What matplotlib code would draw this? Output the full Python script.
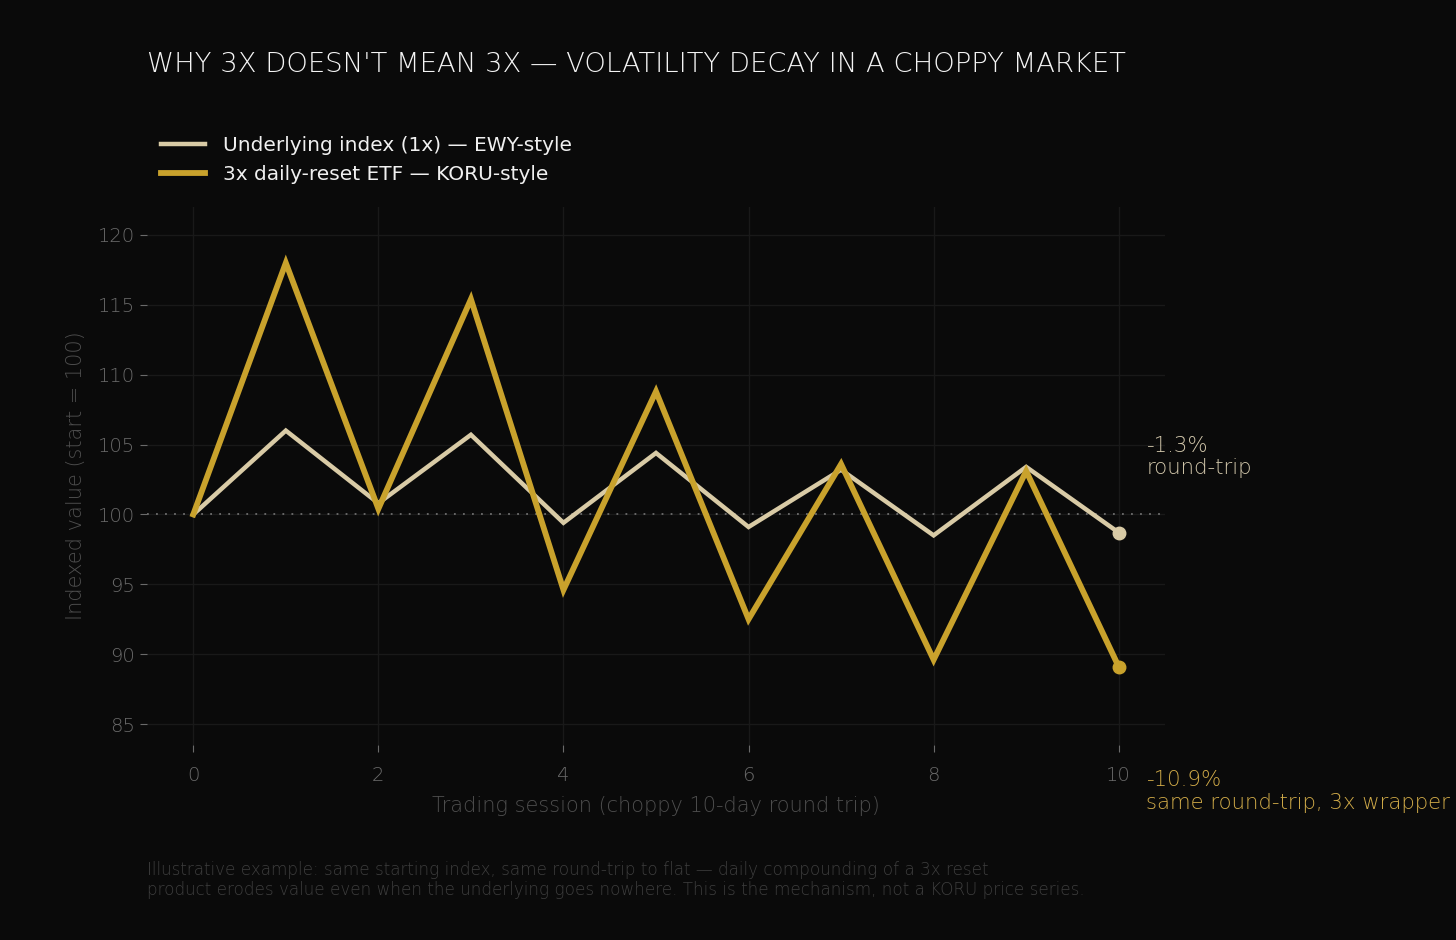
import matplotlib
matplotlib.use("Agg")
import matplotlib.pyplot as plt

# data
sessions = list(range(11))
underlying = [100.0, 106.0, 100.8, 105.7, 99.4, 104.4, 99.1, 103.2, 98.5, 103.4, 98.7]
lev3x = [100.0, 118.0, 100.4, 115.4, 94.6, 108.8, 92.5, 103.6, 89.6, 103.1, 89.1]
yticks = [85, 90, 95, 100, 105, 110, 115, 120]
xticks = [0, 2, 4, 6, 8, 10]

BG = "#0a0a0a"
BEIGE = "#d9cba6"
GOLD = "#c9a22c"

plt.rcParams['font.family'] = ['DejaVu Sans']

fig = plt.figure(figsize=(14.56, 9.4), dpi=100, facecolor=BG)
ax = fig.add_axes([147/1456, 1 - 745/940, (1165-147)/1456, (745-207)/940])
ax.set_facecolor(BG)

ax.plot(sessions, underlying, color=BEIGE, lw=3.2, solid_joinstyle='miter',
        label="Underlying index (1x) \u2014 EWY-style", zorder=3)
ax.plot(sessions, lev3x, color=GOLD, lw=4.2, solid_joinstyle='miter',
        label="3x daily-reset ETF \u2014 KORU-style", zorder=4)
ax.plot(sessions[-1], underlying[-1], 'o', color=BEIGE, ms=9, zorder=5)
ax.plot(sessions[-1], lev3x[-1], 'o', color=GOLD, ms=9, zorder=5)

ax.axhline(100, color="#6e6e6e", lw=1.3, ls=(0, (1, 4)), xmax=0.995, zorder=2)

ax.set_xlim(-0.5, 10.5)
ax.set_ylim(83.5, 122)
ax.set_xticks(xticks)
ax.set_yticks(yticks)
ax.grid(True, color="#191919", lw=1)
ax.set_axisbelow(True)
for s in ax.spines.values():
    s.set_visible(False)
ax.tick_params(colors="#6a6a6a", labelsize=14, length=5, width=0.8)
ax.tick_params(axis='x', pad=10)
for lab in ax.get_xticklabels() + ax.get_yticklabels():
    lab.set_fontweight('light')

ax.set_xlabel("Trading session (choppy 10-day round trip)", color="#4e4e4e",
              fontsize=15, fontweight='light', labelpad=8)
ax.set_ylabel("Indexed value (start = 100)", color="#4e4e4e",
              fontsize=15, fontweight='light', labelpad=9)

ax.text(10.3, 104.1, "-1.3%\nround-trip", color="#d2c7ab", fontsize=15.3,
        fontweight='light', va='center', ha='left', linespacing=1.15, clip_on=False)
ax.text(10.3, 80.2, "-10.9%\nsame round-trip, 3x wrapper", color="#d0aa48",
        fontsize=15.3, fontweight='light', va='center', ha='left',
        linespacing=1.2, clip_on=False)

fig.text(147/1456, 1 - 64/940, "WHY 3X DOESN'T MEAN 3X \u2014 VOLATILITY DECAY IN A CHOPPY MARKET",
         color="#f4f4f4", fontsize=19.7, fontweight='light', va='center', ha='left')

fig.legend(loc='upper left', bbox_to_anchor=(153/1456, 1 - 128/940), frameon=False,
           fontsize=14.5, labelcolor="#f0f0f0", handlelength=2.2, handletextpad=0.9,
           labelspacing=0.5, borderaxespad=0)

fig.text(147/1456, 1 - 880/940,
         "Illustrative example: same starting index, same round-trip to flat \u2014 daily compounding of a 3x reset\n"
         "product erodes value even when the underlying goes nowhere. This is the mechanism, not a KORU price series.",
         color="#3e3e3e", fontsize=12.1, fontweight='light', va='center', ha='left', linespacing=1.15)

fig.savefig("out.png", dpi=100, facecolor=BG)
